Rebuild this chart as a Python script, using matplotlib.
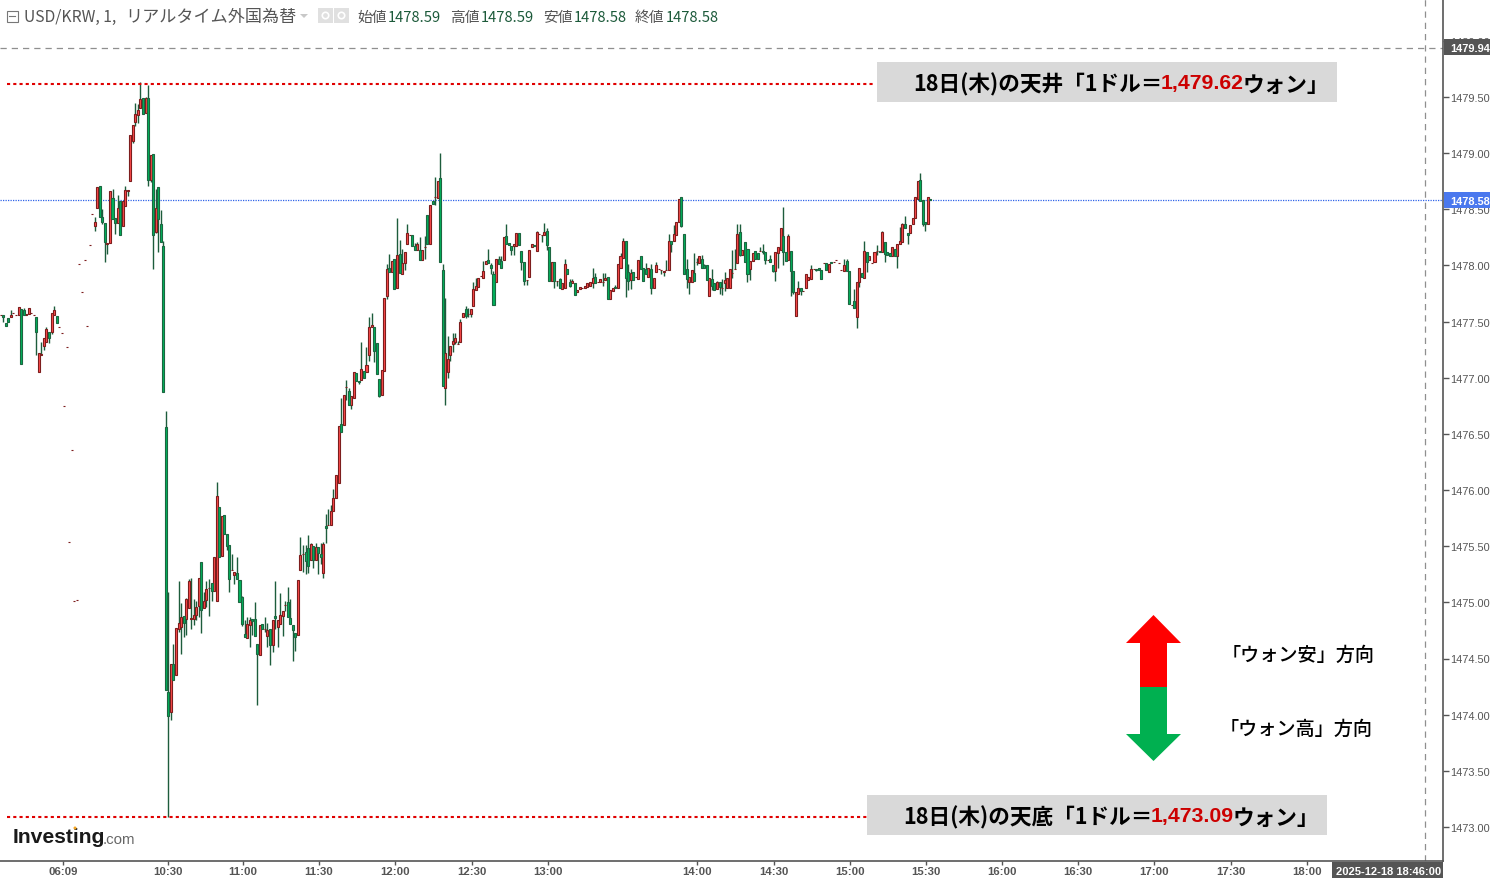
#!/usr/bin/env python3
# -*- coding: utf-8 -*-
# USD/KRW 1 minute candles, 2025-12-18
import numpy as np
import matplotlib
matplotlib.use("Agg")
import matplotlib.pyplot as plt
from matplotlib.patches import Rectangle, Polygon, Circle
from matplotlib.transforms import Affine2D

WIDTH, HEIGHT = 1490, 879
JP = ["Noto Sans CJK JP", "DejaVu Sans"]
ARIAL = ["Liberation Sans", "DejaVu Sans"]

opens = [
    1477.56, 1477.56, 1477.49, 1477.53, 1477.54, 1477.58, 1477.56, 1477.56, 1477.61, 1477.60,
    1477.56, 1477.57, 1477.58, 1477.56, 1477.54, 1477.05, 1477.20, 1477.28, 1477.32, 1477.41,
    1477.41, 1477.56, 1477.55, 1477.45, 1477.40, 1476.75, 1477.27, 1475.54, 1476.36, 1475.01,
    1475.02, 1478.01, 1477.76, 1478.05, 1477.46, 1478.18, 1478.46, 1478.35, 1478.51, 1478.71,
    1478.43, 1478.38, 1478.19, 1478.20, 1478.60, 1478.42, 1478.38, 1478.57, 1478.35, 1478.53,
    1478.66, 1478.75, 1479.11, 1479.28, 1479.34, 1479.40, 1479.49, 1479.36, 1479.49, 1478.76,
    1478.99, 1478.30, 1478.70, 1478.37, 1478.17, 1476.56, 1474.20, 1474.02, 1474.45, 1474.35,
    1474.76, 1474.78, 1474.88, 1474.85, 1474.95, 1474.85, 1474.85, 1474.89, 1474.97, 1475.36,
    1474.95, 1475.02, 1475.13, 1475.17, 1475.10, 1475.01, 1475.85, 1475.41, 1475.78, 1475.61,
    1475.51, 1475.29, 1475.24, 1475.26, 1475.20, 1475.05, 1474.72, 1474.68, 1474.80, 1474.85,
    1474.85, 1474.63, 1474.53, 1474.81, 1474.76, 1474.70, 1474.76, 1474.62, 1474.88, 1474.78,
    1474.81, 1474.88, 1474.98, 1475.00, 1474.86, 1474.80, 1474.73, 1474.71, 1475.29, 1475.43,
    1475.45, 1475.48, 1475.38, 1475.50, 1475.38, 1475.49, 1475.43, 1475.26, 1475.68, 1475.69,
    1475.69, 1475.81, 1475.93, 1476.06, 1476.59, 1476.58, 1476.92, 1476.88, 1476.76, 1476.82,
    1477.04, 1476.97, 1476.98, 1477.06, 1477.05, 1477.20, 1477.45, 1477.45, 1477.31, 1476.99,
    1476.85, 1477.06, 1477.73, 1477.98, 1477.94, 1478.06, 1477.80, 1478.10, 1477.92, 1478.02,
    1478.19, 1478.27, 1478.27, 1478.17, 1478.14, 1478.14, 1478.05, 1478.16, 1478.45, 1478.19,
    1478.57, 1478.61, 1478.60, 1478.78, 1477.96, 1476.91, 1477.05, 1477.20, 1477.30, 1477.32,
    1477.30, 1477.32, 1477.54, 1477.61, 1477.57, 1477.57, 1477.64, 1477.78, 1477.81, 1477.91,
    1477.89, 1478.01, 1478.05, 1478.00, 1477.92, 1477.85, 1478.06, 1478.04, 1478.05, 1478.26,
    1478.20, 1478.17, 1478.17, 1478.17, 1478.29, 1478.13, 1478.03, 1477.87, 1477.90, 1478.16,
    1478.18, 1478.13, 1478.28, 1478.27, 1478.27, 1478.31, 1478.16, 1477.86, 1478.03, 1477.86,
    1477.88, 1477.79, 1477.80, 1477.97, 1477.85, 1477.84, 1477.84, 1477.76, 1477.79, 1477.80,
    1477.80, 1477.81, 1477.82, 1477.84, 1477.90, 1477.85, 1477.85, 1477.85, 1477.87, 1477.90,
    1477.70, 1477.77, 1477.81, 1477.80, 1477.98, 1478.07, 1478.22, 1477.94, 1477.87, 1477.94,
    1477.90, 1477.88, 1478.08, 1477.98, 1477.97, 1477.90, 1477.97, 1477.80, 1477.94, 1477.97,
    1477.96, 1477.94, 1477.96, 1477.96, 1478.22, 1478.22, 1478.27, 1478.39, 1478.61, 1478.28,
    1477.97, 1477.85, 1477.85, 1477.93, 1478.03, 1478.02, 1478.06, 1478.00, 1478.00, 1477.73,
    1477.88, 1477.84, 1477.79, 1477.85, 1477.80, 1477.84, 1477.80, 1477.80, 1477.93, 1477.97,
    1478.02, 1478.30, 1478.09, 1478.21, 1478.15, 1477.97, 1478.04, 1478.13, 1478.11, 1478.13,
    1478.13, 1478.12, 1478.05, 1478.06, 1478.00, 1477.95, 1478.11, 1478.14, 1478.26, 1478.12,
    1478.05, 1478.13, 1477.95, 1477.55, 1477.75, 1477.80, 1477.77, 1477.80, 1477.87, 1477.88,
    1477.97, 1477.97, 1477.98, 1477.96, 1478.02, 1478.02, 1477.94, 1478.03, 1478.03, 1478.05,
    1478.02, 1477.96, 1477.95, 1478.04, 1477.95, 1477.65, 1477.68, 1477.54, 1477.85, 1477.93,
    1477.89, 1478.12, 1478.05, 1478.02, 1478.03, 1478.13, 1478.13, 1478.12, 1478.21, 1478.12,
    1478.11, 1478.08, 1478.15, 1478.08, 1478.19, 1478.21, 1478.37, 1478.29, 1478.29, 1478.37,
    1478.42, 1478.59, 1478.76, 1478.58, 1478.39, 1478.37, 1478.59,
]
highs = [
    1477.56, 1477.56, 1477.49, 1477.53, 1477.60, 1477.58, 1477.56, 1477.63, 1477.61, 1477.62,
    1477.57, 1477.62, 1477.58, 1477.56, 1477.54, 1477.22, 1477.32, 1477.35, 1477.45, 1477.41,
    1477.58, 1477.64, 1477.55, 1477.45, 1477.40, 1476.75, 1477.27, 1475.54, 1476.36, 1475.01,
    1475.02, 1478.01, 1477.76, 1478.05, 1477.46, 1478.18, 1478.46, 1478.43, 1478.70, 1478.71,
    1478.50, 1478.38, 1478.20, 1478.66, 1478.68, 1478.42, 1478.63, 1478.57, 1478.57, 1478.71,
    1478.67, 1479.16, 1479.25, 1479.45, 1479.44, 1479.63, 1479.49, 1479.50, 1479.61, 1478.98,
    1478.99, 1478.68, 1478.70, 1478.49, 1478.22, 1476.70, 1475.09, 1474.45, 1474.63, 1474.77,
    1475.19, 1474.99, 1474.88, 1475.04, 1475.21, 1475.22, 1475.03, 1475.01, 1475.22, 1475.36,
    1475.09, 1475.19, 1475.21, 1475.17, 1475.40, 1476.07, 1475.85, 1475.77, 1475.78, 1475.61,
    1475.51, 1475.43, 1475.27, 1475.40, 1475.20, 1475.06, 1474.84, 1474.87, 1474.87, 1474.85,
    1475.00, 1474.63, 1474.80, 1474.81, 1474.87, 1474.82, 1474.76, 1474.84, 1475.19, 1474.84,
    1475.08, 1474.92, 1475.01, 1475.14, 1475.03, 1474.80, 1474.73, 1475.20, 1475.58, 1475.51,
    1475.51, 1475.60, 1475.53, 1475.50, 1475.53, 1475.49, 1475.53, 1475.54, 1475.79, 1475.83,
    1475.87, 1476.01, 1476.13, 1476.57, 1476.82, 1476.85, 1476.98, 1476.91, 1476.84, 1477.05,
    1477.04, 1476.97, 1477.32, 1477.06, 1477.27, 1477.54, 1477.58, 1477.45, 1477.31, 1476.99,
    1477.07, 1477.71, 1478.01, 1478.10, 1478.04, 1478.06, 1478.42, 1478.23, 1478.15, 1478.12,
    1478.37, 1478.27, 1478.27, 1478.20, 1478.21, 1478.25, 1478.14, 1478.26, 1478.45, 1478.54,
    1478.57, 1478.79, 1478.75, 1479.00, 1478.01, 1477.71, 1477.37, 1477.28, 1477.40, 1477.40,
    1477.33, 1477.52, 1477.58, 1477.64, 1477.62, 1477.61, 1477.85, 1477.89, 1477.89, 1477.91,
    1478.04, 1478.04, 1478.15, 1478.02, 1477.95, 1478.06, 1478.08, 1478.08, 1478.25, 1478.37,
    1478.20, 1478.17, 1478.19, 1478.29, 1478.29, 1478.13, 1478.03, 1477.87, 1478.14, 1478.19,
    1478.18, 1478.31, 1478.28, 1478.27, 1478.38, 1478.33, 1478.16, 1478.03, 1478.03, 1477.86,
    1477.89, 1477.84, 1478.06, 1477.97, 1477.88, 1477.88, 1477.84, 1477.78, 1477.81, 1477.80,
    1477.82, 1477.84, 1477.85, 1477.98, 1477.93, 1477.85, 1477.88, 1477.93, 1477.93, 1477.90,
    1477.78, 1477.80, 1477.83, 1478.01, 1478.11, 1478.24, 1478.22, 1478.01, 1477.97, 1477.94,
    1477.90, 1478.05, 1478.08, 1477.98, 1478.02, 1477.98, 1478.01, 1477.89, 1478.03, 1477.97,
    1477.96, 1477.95, 1478.05, 1478.28, 1478.22, 1478.36, 1478.39, 1478.59, 1478.61, 1478.28,
    1478.06, 1477.90, 1477.96, 1478.11, 1478.07, 1478.08, 1478.09, 1478.01, 1478.00, 1477.89,
    1477.97, 1477.84, 1477.86, 1477.85, 1477.88, 1477.94, 1477.89, 1477.97, 1478.14, 1478.15,
    1478.37, 1478.37, 1478.14, 1478.21, 1478.15, 1478.04, 1478.11, 1478.13, 1478.11, 1478.16,
    1478.19, 1478.12, 1478.05, 1478.09, 1478.00, 1478.12, 1478.16, 1478.33, 1478.52, 1478.12,
    1478.28, 1478.13, 1477.95, 1477.76, 1477.86, 1477.80, 1477.77, 1477.92, 1477.90, 1478.00,
    1477.97, 1477.97, 1477.98, 1477.96, 1478.02, 1478.02, 1478.01, 1478.03, 1478.03, 1478.05,
    1478.02, 1477.96, 1478.06, 1478.06, 1477.95, 1477.65, 1477.79, 1477.85, 1477.98, 1477.93,
    1478.22, 1478.12, 1478.08, 1478.02, 1478.12, 1478.18, 1478.13, 1478.31, 1478.21, 1478.12,
    1478.11, 1478.16, 1478.15, 1478.19, 1478.34, 1478.38, 1478.44, 1478.29, 1478.36, 1478.42,
    1478.61, 1478.75, 1478.82, 1478.58, 1478.39, 1478.61, 1478.59,
]
lows = [
    1477.56, 1477.50, 1477.46, 1477.50, 1477.54, 1477.58, 1477.56, 1477.56, 1477.12, 1477.56,
    1477.56, 1477.57, 1477.58, 1477.56, 1477.20, 1477.05, 1477.20, 1477.25, 1477.32, 1477.31,
    1477.39, 1477.56, 1477.49, 1477.45, 1477.40, 1476.75, 1477.27, 1475.54, 1476.36, 1475.01,
    1475.02, 1478.01, 1477.76, 1478.05, 1477.46, 1478.18, 1478.46, 1478.31, 1478.51, 1478.43,
    1478.37, 1478.03, 1478.10, 1478.20, 1478.41, 1478.28, 1478.38, 1478.27, 1478.35, 1478.53,
    1478.62, 1478.75, 1479.09, 1479.24, 1479.27, 1479.40, 1479.35, 1479.36, 1478.71, 1478.74,
    1477.97, 1478.29, 1478.12, 1478.21, 1476.87, 1474.22, 1473.09, 1473.95, 1474.31, 1474.35,
    1474.74, 1474.54, 1474.69, 1474.71, 1474.95, 1474.76, 1474.80, 1474.84, 1474.87, 1474.73,
    1474.95, 1474.96, 1474.88, 1475.01, 1475.10, 1475.01, 1475.40, 1475.41, 1475.61, 1475.47,
    1475.09, 1475.29, 1475.16, 1475.21, 1475.00, 1474.79, 1474.69, 1474.68, 1474.60, 1474.71,
    1474.70, 1474.09, 1474.53, 1474.76, 1474.74, 1474.60, 1474.44, 1474.56, 1474.76, 1474.60,
    1474.81, 1474.70, 1474.92, 1474.87, 1474.81, 1474.48, 1474.57, 1474.71, 1475.29, 1475.27,
    1475.25, 1475.26, 1475.38, 1475.31, 1475.38, 1475.25, 1475.34, 1475.22, 1475.53, 1475.69,
    1475.69, 1475.81, 1475.93, 1476.06, 1476.52, 1476.58, 1476.80, 1476.76, 1476.72, 1476.82,
    1476.97, 1476.94, 1476.98, 1477.00, 1477.05, 1477.15, 1477.45, 1477.14, 1477.03, 1476.83,
    1476.85, 1477.06, 1477.70, 1477.94, 1477.94, 1477.79, 1477.80, 1477.93, 1477.92, 1477.96,
    1478.19, 1478.27, 1478.17, 1478.14, 1478.14, 1478.05, 1478.05, 1478.06, 1478.19, 1478.19,
    1478.55, 1478.54, 1478.60, 1478.03, 1476.93, 1476.76, 1477.00, 1477.15, 1477.23, 1477.30,
    1477.30, 1477.32, 1477.54, 1477.53, 1477.54, 1477.54, 1477.64, 1477.78, 1477.81, 1477.91,
    1477.89, 1478.01, 1478.02, 1477.92, 1477.65, 1477.85, 1478.01, 1477.98, 1478.05, 1478.19,
    1478.18, 1478.09, 1478.09, 1478.17, 1478.18, 1477.96, 1477.83, 1477.83, 1477.90, 1478.16,
    1478.17, 1478.13, 1478.28, 1478.21, 1478.27, 1478.14, 1477.86, 1477.86, 1477.80, 1477.82,
    1477.80, 1477.79, 1477.80, 1477.92, 1477.81, 1477.84, 1477.74, 1477.76, 1477.79, 1477.80,
    1477.80, 1477.81, 1477.82, 1477.80, 1477.84, 1477.85, 1477.85, 1477.82, 1477.87, 1477.70,
    1477.70, 1477.77, 1477.80, 1477.80, 1477.98, 1478.07, 1477.72, 1477.78, 1477.79, 1477.87,
    1477.90, 1477.88, 1477.97, 1477.86, 1477.92, 1477.90, 1477.75, 1477.80, 1477.94, 1477.97,
    1477.92, 1477.91, 1477.96, 1477.96, 1478.12, 1478.22, 1478.27, 1478.39, 1478.34, 1477.92,
    1477.80, 1477.75, 1477.85, 1477.86, 1478.00, 1478.02, 1477.98, 1477.98, 1477.87, 1477.73,
    1477.78, 1477.78, 1477.79, 1477.75, 1477.74, 1477.77, 1477.80, 1477.80, 1477.89, 1477.97,
    1478.02, 1478.08, 1478.09, 1478.03, 1477.85, 1477.87, 1478.04, 1478.06, 1478.06, 1478.13,
    1478.10, 1478.01, 1478.05, 1478.03, 1477.94, 1477.86, 1477.98, 1478.14, 1478.00, 1478.04,
    1478.05, 1477.73, 1477.75, 1477.55, 1477.75, 1477.74, 1477.77, 1477.80, 1477.87, 1477.88,
    1477.97, 1477.95, 1477.96, 1477.88, 1478.02, 1477.96, 1477.94, 1478.02, 1478.03, 1478.05,
    1478.02, 1477.96, 1477.95, 1477.95, 1477.66, 1477.65, 1477.62, 1477.44, 1477.81, 1477.90,
    1477.89, 1477.94, 1478.05, 1478.02, 1478.03, 1478.09, 1478.12, 1478.12, 1478.03, 1478.09,
    1478.08, 1478.08, 1478.08, 1477.98, 1478.19, 1478.21, 1478.33, 1478.19, 1478.29, 1478.37,
    1478.42, 1478.59, 1478.57, 1478.35, 1478.31, 1478.37, 1478.58,
]
closes = [
    1477.56, 1477.54, 1477.46, 1477.50, 1477.56, 1477.58, 1477.56, 1477.63, 1477.12, 1477.56,
    1477.57, 1477.62, 1477.58, 1477.56, 1477.41, 1477.22, 1477.21, 1477.35, 1477.43, 1477.35,
    1477.58, 1477.60, 1477.49, 1477.45, 1477.40, 1476.75, 1477.27, 1475.54, 1476.36, 1475.01,
    1475.02, 1478.01, 1477.76, 1478.05, 1477.46, 1478.18, 1478.46, 1478.39, 1478.70, 1478.43,
    1478.39, 1478.21, 1478.20, 1478.66, 1478.41, 1478.38, 1478.51, 1478.27, 1478.57, 1478.67,
    1478.67, 1479.16, 1479.25, 1479.35, 1479.38, 1479.48, 1479.35, 1479.49, 1478.76, 1478.98,
    1478.27, 1478.51, 1478.41, 1478.21, 1476.87, 1474.22, 1473.99, 1474.45, 1474.31, 1474.77,
    1474.82, 1474.87, 1474.82, 1475.03, 1475.19, 1474.86, 1474.89, 1474.96, 1475.22, 1474.93,
    1475.01, 1475.12, 1475.13, 1475.10, 1475.40, 1475.95, 1475.40, 1475.77, 1475.61, 1475.50,
    1475.21, 1475.29, 1475.27, 1475.21, 1475.00, 1474.81, 1474.69, 1474.81, 1474.84, 1474.83,
    1474.70, 1474.54, 1474.80, 1474.76, 1474.76, 1474.75, 1474.62, 1474.84, 1474.86, 1474.84,
    1474.89, 1474.92, 1474.98, 1474.87, 1474.81, 1474.75, 1474.69, 1475.20, 1475.42, 1475.43,
    1475.37, 1475.32, 1475.52, 1475.38, 1475.49, 1475.44, 1475.40, 1475.52, 1475.66, 1475.69,
    1475.81, 1475.93, 1476.13, 1476.57, 1476.52, 1476.85, 1476.92, 1476.76, 1476.84, 1477.05,
    1476.97, 1476.96, 1477.08, 1477.00, 1477.11, 1477.45, 1477.47, 1477.24, 1477.03, 1476.84,
    1477.07, 1477.71, 1477.97, 1477.94, 1478.04, 1477.79, 1478.09, 1477.93, 1478.02, 1478.12,
    1478.29, 1478.27, 1478.17, 1478.14, 1478.19, 1478.05, 1478.14, 1478.16, 1478.19, 1478.54,
    1478.55, 1478.61, 1478.75, 1478.03, 1476.93, 1477.22, 1477.17, 1477.28, 1477.33, 1477.35,
    1477.30, 1477.50, 1477.58, 1477.55, 1477.57, 1477.61, 1477.79, 1477.82, 1477.89, 1477.91,
    1477.95, 1478.04, 1478.02, 1477.98, 1477.65, 1478.06, 1478.01, 1477.98, 1478.25, 1478.19,
    1478.18, 1478.14, 1478.19, 1478.29, 1478.18, 1478.03, 1477.86, 1477.87, 1478.14, 1478.19,
    1478.17, 1478.30, 1478.28, 1478.27, 1478.30, 1478.18, 1477.86, 1478.03, 1477.86, 1477.86,
    1477.80, 1477.84, 1478.01, 1477.92, 1477.82, 1477.86, 1477.74, 1477.78, 1477.81, 1477.80,
    1477.82, 1477.84, 1477.85, 1477.89, 1477.84, 1477.85, 1477.88, 1477.85, 1477.89, 1477.70,
    1477.78, 1477.80, 1477.80, 1478.01, 1478.08, 1478.22, 1477.89, 1477.86, 1477.93, 1477.87,
    1477.90, 1478.05, 1477.97, 1477.86, 1477.92, 1477.98, 1477.80, 1477.89, 1478.00, 1477.97,
    1477.96, 1477.95, 1477.96, 1478.22, 1478.19, 1478.28, 1478.39, 1478.59, 1478.35, 1477.92,
    1477.88, 1477.90, 1477.96, 1477.86, 1478.03, 1478.08, 1477.98, 1477.98, 1477.87, 1477.89,
    1477.82, 1477.78, 1477.85, 1477.81, 1477.80, 1477.87, 1477.89, 1477.97, 1477.93, 1477.97,
    1478.28, 1478.09, 1478.14, 1478.03, 1477.92, 1478.04, 1478.11, 1478.06, 1478.06, 1478.13,
    1478.12, 1478.05, 1478.05, 1478.03, 1477.95, 1478.12, 1478.16, 1478.33, 1478.12, 1478.04,
    1478.26, 1477.95, 1477.76, 1477.76, 1477.80, 1477.77, 1477.77, 1477.92, 1477.90, 1477.97,
    1477.97, 1477.96, 1477.96, 1477.88, 1478.02, 1477.96, 1478.01, 1478.02, 1478.03, 1478.05,
    1478.02, 1477.96, 1478.00, 1477.95, 1477.66, 1477.65, 1477.62, 1477.85, 1477.98, 1477.90,
    1478.13, 1478.03, 1478.08, 1478.02, 1478.12, 1478.13, 1478.12, 1478.30, 1478.10, 1478.09,
    1478.08, 1478.16, 1478.08, 1478.19, 1478.22, 1478.37, 1478.33, 1478.27, 1478.36, 1478.42,
    1478.61, 1478.75, 1478.57, 1478.37, 1478.37, 1478.61, 1478.58,
]

# time labels sit on bar positions, the axis skips the night session
tick_bars = [25.5, 66.9, 96.4, 126.3, 156.3, 186.6, 216.5, 275.2, 305.5, 335.4, 365.3, 395.3, 425.2, 455.1, 485.4, 515.3]
tick_labels = ["06:09", "10:30", "11:00", "11:30", "12:00", "12:30", "13:00", "14:00", "14:30",
               "15:00", "15:30", "16:00", "16:30", "17:00", "17:30", "18:00"]
price_ticks = [1473.0, 1473.5, 1474.0, 1474.5, 1475.0, 1475.5, 1476.0, 1476.5, 1477.0,
               1477.5, 1478.0, 1478.5, 1479.0, 1479.5, 1480.0]

day_high = 1479.62
day_low = 1473.09
last_price = 1478.58
cross_price = 1479.94
cross_bar = 561.7

RED_FILL = "#ff4b4b"
RED_EDGE = "#7d1d1d"
GREEN_FILL = "#00b35c"
GREEN_EDGE = "#1c6640"
WICK = "#1d5c3c"
GREY = "#555555"


def main():
    assert len(opens) == len(highs) == len(lows) == len(closes), "arrays out of step"
    o, h, l, c = map(np.array, (opens, highs, lows, closes))
    bars = np.arange(1, len(o) + 1)

    fig = plt.figure(figsize=(WIDTH / 100, HEIGHT / 100), dpi=100, facecolor="white")
    ax = fig.add_axes([0, (HEIGHT - 862) / HEIGHT, 1443 / WIDTH, 862 / HEIGHT])
    # pixel space of the picture, y going down, for the overlay drawn on top
    px = Affine2D().scale(1, -1).translate(0, HEIGHT)

    bar_px = 2.54
    px_to_bar = lambda x: 65 + (x - 163.3) / bar_px
    ax.set_xlim(px_to_bar(0), px_to_bar(1443))
    ax.set_ylim(1479.5 - (862 - 98) / 112.3, 1479.5 + 98 / 112.3)

    # candles
    ax.vlines(bars, l, h, color=WICK, lw=1.0, zorder=3)
    up = c >= o
    ax.bar(bars[up], (c - o)[up], bottom=o[up], width=0.8, color=RED_FILL, edgecolor=RED_EDGE, lw=0.8, zorder=4)
    ax.bar(bars[~up], (c - o)[~up], bottom=o[~up], width=0.8, color=GREEN_FILL, edgecolor=GREEN_EDGE, lw=0.8, zorder=4)

    # reference lines
    ax.axhline(last_price, color="#2f62e8", lw=0.9, ls=(0, (1, 1)), zorder=2)
    ax.axhline(cross_price, color="#8f8f8f", lw=0.9, ls=(0, (5, 4)), zorder=2)
    ax.axvline(cross_bar, color="#8f8f8f", lw=0.9, ls=(0, (5, 4)), zorder=2)
    ax.hlines(day_high, px_to_bar(7), px_to_bar(875), color="#e00000", lw=1.5, ls=(0, (1.5, 1.5)), zorder=5)
    ax.hlines(day_low, px_to_bar(7), px_to_bar(867), color="#e00000", lw=1.5, ls=(0, (1.5, 1.5)), zorder=5)

    # axes
    for name in ("top", "left"):
        ax.spines[name].set_visible(False)
    for name in ("right", "bottom"):
        ax.spines[name].set_color(GREY)
        ax.spines[name].set_linewidth(1.2)
    ax.yaxis.tick_right()
    ax.set_yticks(price_ticks, [f"{p:.2f}" for p in price_ticks])
    ax.set_xticks(tick_bars, tick_labels)
    ax.tick_params(axis="y", length=4, width=1, color=GREY, pad=1.5, labelcolor=GREY, labelsize=7.9)
    ax.tick_params(axis="x", length=3, width=1, color=GREY, pad=0.6, labelcolor=GREY, labelsize=8.2)
    for t in ax.get_yticklabels():
        t.set_fontfamily(ARIAL)
    for t in ax.get_xticklabels():
        t.set_fontfamily(ARIAL)
        t.set_fontweight("bold")

    def put(x, y, s, **kw):
        kw.setdefault("va", "center")
        kw.setdefault("clip_on", False)
        kw.setdefault("zorder", 10)
        return ax.text(x, y, s, transform=px, **kw)

    def box(x, y, w, h, color, zorder=8, **kw):
        ax.add_patch(Rectangle((x, y), w, h, transform=px, facecolor=color, edgecolor=kw.pop("edge", "none"),
                               clip_on=False, zorder=zorder, **kw))

    # price and time flags
    box(1444, 40, 46, 16, GREY)
    put(1450, 49, f"{cross_price:.2f}", color="white", fontsize=7.9, family=ARIAL, fontweight="bold")
    box(1444, 193, 46, 16, "#4a78ee")
    put(1450, 202, f"{last_price:.2f}", color="white", fontsize=7.9, family=ARIAL, fontweight="bold")
    box(1332, 863, 111, 16, GREY)
    put(1336, 872, "2025-12-18 18:46:00", color="white", fontsize=8.0, family=ARIAL, fontweight="bold")

    # header
    box(6.5, 11.5, 11, 11, "white", edge="#777777", lw=0.8)
    ax.add_line(plt.Line2D([9, 15], [17, 17], transform=px, color="#777777", lw=0.8, clip_on=False, zorder=10))
    put(24, 17, "USD/KRW, 1,", color=GREY, fontsize=11.3, family=JP)
    put(125, 17, "リアルタイム外国為替", color=GREY, fontsize=12.3, family=JP)
    ax.add_patch(Polygon([(300, 15), (308, 15), (304, 19)], transform=px, facecolor="#c8c8c8", edgecolor="none",
                         clip_on=False, zorder=10))
    for ix in (318, 334):
        box(ix, 9, 15, 15, "#e0e0e0")
        ax.add_patch(Circle((ix + 7.5, 16.5), 3.2, transform=px, facecolor="none", edgecolor="white", lw=1.2,
                            clip_on=False, zorder=10))
    ohlc = [(357, 388, "始値", "1478.59"), (450, 481, "高値", "1478.59"),
            (543, 574, "安値", "1478.58"), (635, 666, "終値", "1478.58")]
    for xl, xv, name, val in ohlc:
        put(xl, 18, name, color=GREY, fontsize=10.6, family=JP)
        put(xv, 18, val, color="#1c5a3a", fontsize=10.6, family=JP)

    # day high / low captions
    box(877, 63, 460, 40, "#d9d9d9")
    box(867, 796, 460, 40, "#d9d9d9")
    cap = dict(color="black", fontsize=15.6, family=JP, fontweight="bold")
    num = dict(color="#cc0000", fontsize=15.3, family=ARIAL, fontweight="bold")
    put(913, 85, "18日(木)の天井「1ドル＝", **cap)
    put(1161, 84, "1,479.62", **num)
    put(1243, 85, "ウォン」", **cap)
    put(903, 818, "18日(木)の天底「1ドル＝", **cap)
    put(1151, 817, "1,473.09", **num)
    put(1233, 818, "ウォン」", **cap)

    # direction arrow
    ax.add_patch(Polygon([(1153.5, 616), (1181, 644), (1167, 644), (1167, 688), (1140, 688), (1140, 644), (1126, 644)],
                         transform=px, facecolor="#ff0000", edgecolor="none", clip_on=False, zorder=7))
    ax.add_patch(Polygon([(1140, 688), (1167, 688), (1167, 735), (1181, 735), (1153.5, 762), (1126, 735), (1140, 735)],
                         transform=px, facecolor="#00b050", edgecolor="none", clip_on=False, zorder=7))
    put(1222, 655, "「ウォン安」方向", color="black", fontsize=13.8, family=JP, fontweight="medium")
    put(1220, 729, "「ウォン高」方向", color="black", fontsize=13.8, family=JP, fontweight="medium")

    # logo
    put(13, 838, "Investing", color="#1a1a1a", fontsize=15.2, family=ARIAL, fontweight="bold")
    put(103, 840, ".com", color="#666666", fontsize=10.8, family=ARIAL)
    ax.add_patch(Circle((75, 829), 1.5, transform=px, facecolor="#f5a623", edgecolor="none", clip_on=False, zorder=11))

    fig.savefig("out.png", dpi=100)


if __name__ == "__main__":
    main()
